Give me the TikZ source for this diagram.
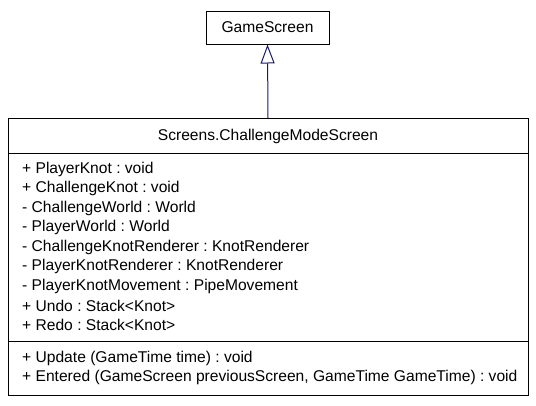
\documentclass[tikz,border=0pt]{standalone}
\usepackage{fontspec}
\setmainfont{Liberation Sans}
\usetikzlibrary{arrows.meta}
\definecolor{edgeblue}{RGB}{25,25,112}
\frenchspacing
\tikzset{
  box/.style={draw=black, line width=1pt},
  txt/.style={anchor=west, inner sep=0pt, font=\fontsize{15.6}{18}\selectfont},
  inherit/.style={draw=edgeblue, line width=1pt, -{Triangle[open, length=19pt, width=14pt, fill=white]}}
}
\begin{document}
\begin{tikzpicture}[x=1pt, y=-1pt]
\useasboundingbox (0,0) rectangle (536,405);
% GameScreen
\node[box, minimum width=123pt, minimum height=33pt, inner sep=0pt, font=\fontsize{15.6}{18}\selectfont] (base) at (267.5,27.5) {GameScreen};
% class box
\coordinate (tl) at (8,118);
\coordinate (br) at (528,395);
\draw[box] (tl) rectangle (br);
\draw[box] (8,153) -- (528,153);
\draw[box] (8,341) -- (528,341);
\coordinate (topmid) at (268,118);
\node[inner sep=0pt, font=\fontsize{15.6}{18}\selectfont] (title) at (268,136) {Screens.ChallengeModeScreen};
\node[txt] (a1) at (22,169) {+ PlayerKnot : void};
\node[txt] (a2) at (22,188.5) {+ ChallengeKnot : void};
\node[txt] (a3) at (22,208) {- ChallengeWorld : World};
\node[txt] (a4) at (22,227.5) {- PlayerWorld : World};
\node[txt] (a5) at (22,247) {- ChallengeKnotRenderer : KnotRenderer};
\node[txt] (a6) at (22,266.5) {- PlayerKnotRenderer : KnotRenderer};
\node[txt] (a7) at (22,286) {- PlayerKnotMovement : PipeMovement};
\node[txt] (a8) at (22,305.5) {+ Undo : Stack<Knot>};
\node[txt] (a9) at (22,325) {+ Redo : Stack<Knot>};
\node[txt] (m1) at (22,358) {+ Update (GameTime time) : void};
\node[txt] (m2) at (22,377.5) {+ Entered (GameScreen previousScreen, GameTime GameTime) : void};
\draw[inherit] (topmid) -- (base.south);
\end{tikzpicture}
\end{document}
